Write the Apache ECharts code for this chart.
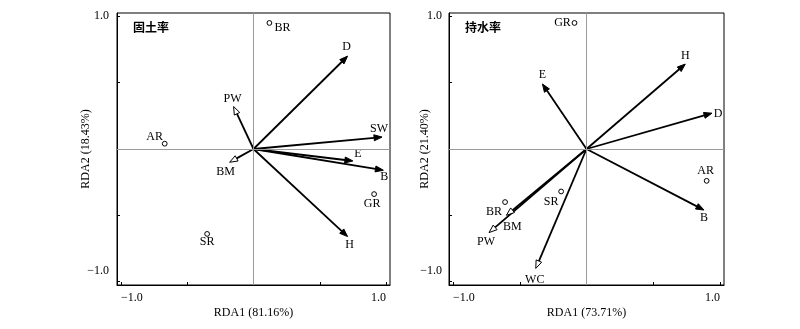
<!DOCTYPE html>
<html>
<head>
<meta charset="utf-8">
<title>RDA</title>
<script src="https://cdn.jsdelivr.net/npm/echarts@6/dist/echarts.min.js"></script>
<style>
  html, body { margin: 0; padding: 0; background: #fff; }
  #chart { width: 800px; height: 329px; }
</style>
</head>
<body>
<div id="chart"></div>
<script>
// ---- 固土率 panel ----
const soilTitle = '固土率';
const soilAxisX = 'RDA1 (81.16%)';
const soilAxisY = 'RDA2 (18.43%)';
const soilVars = ['D', 'SW', 'E', 'B', 'H', 'PW', 'BM'];
const soilVarX = [0.71, 0.97, 0.75, 0.98, 0.71, -0.15, -0.18];
const soilVarY = [0.70, 0.09, -0.09, -0.16, -0.66, 0.32, -0.10];
const soilOpenVars = ['PW', 'BM'];
const soilSites = ['BR', 'AR', 'GR', 'SR'];
const soilSiteX = [0.12, -0.67, 0.91, -0.35];
const soilSiteY = [0.95, 0.04, -0.34, -0.64];

// ---- 持水率 panel ----
const waterTitle = '持水率';
const waterAxisX = 'RDA1 (73.71%)';
const waterAxisY = 'RDA2 (21.40%)';
const waterVars = ['H', 'D', 'E', 'B', 'PW', 'BM', 'WC'];
const waterVarX = [0.74, 0.94, -0.33, 0.88, -0.73, -0.60, -0.38];
const waterVarY = [0.64, 0.27, 0.49, -0.46, -0.63, -0.50, -0.90];
const waterOpenVars = ['PW', 'BM', 'WC'];
const waterSites = ['GR', 'AR', 'SR', 'BR'];
const waterSiteX = [-0.09, 0.90, -0.19, -0.61];
const waterSiteY = [0.95, -0.24, -0.32, -0.40];

// axis ticks and labelled ends
const tickValues = [-1, -0.5, 0, 0.5, 1];
const labelValues = [-1, 1];

// label placement (pixel offset of each label centre from its point)
const soilLabelShift = {
  D: [-1, -9], SW: [-3, -8], E: [5, -7], B: [1, 7], H: [2, 8], PW: [-1, -8], BM: [-4, 10],
  BR: [13, 5], AR: [-10, -7], GR: [-2, 10], SR: [0, 8]
};
const waterLabelShift = {
  H: [0, -8], D: [6, 1], E: [0, -9], B: [0, 8], PW: [-3, 9], BM: [6, 12], WC: [-1, 11],
  GR: [-12, 0], AR: [-1, -10], SR: [-10, 10], BR: [-11, 10]
};

const SERIF = '"Liberation Serif", "Times New Roman", serif';

function fmt(v) {
  return (v < 0 ? '\u2212' : '') + Math.abs(v).toFixed(1);
}

function arrowSeries(idx, names, xs, ys, openNames, shift) {
  return {
    type: 'custom',
    xAxisIndex: idx,
    yAxisIndex: idx,
    z: 3,
    silent: true,
    data: names.map((n, i) => [xs[i], ys[i], openNames.includes(n) ? 1 : 0]),
    renderItem(params, api) {
      const name = names[params.dataIndex];
      const o = api.coord([0, 0]);
      const t = api.coord([api.value(0), api.value(1)]);
      const dx = t[0] - o[0], dy = t[1] - o[1];
      const len = Math.hypot(dx, dy);
      const ux = dx / len, uy = dy / len;
      const hl = 8, hw = 3;
      const b = [t[0] - ux * hl, t[1] - uy * hl];
      const p1 = [b[0] - uy * hw, b[1] + ux * hw];
      const p2 = [b[0] + uy * hw, b[1] - ux * hw];
      const open = api.value(2) === 1;
      const s = shift[name] || [0, 0];
      return {
        type: 'group',
        children: [
          {
            type: 'line',
            shape: { x1: o[0], y1: o[1], x2: b[0], y2: b[1] },
            style: { stroke: '#000', lineWidth: 1.8 }
          },
          {
            type: 'polygon',
            shape: { points: [t, p1, p2] },
            style: { fill: open ? '#fff' : '#000', stroke: '#000', lineWidth: 1 }
          },
          {
            type: 'text',
            x: t[0] + s[0],
            y: t[1] + s[1],
            style: {
              text: name, align: 'center', verticalAlign: 'middle',
              font: '12px ' + SERIF, fill: '#000'
            }
          }
        ]
      };
    }
  };
}

function siteSeries(idx, names, xs, ys, shift) {
  return {
    type: 'custom',
    xAxisIndex: idx,
    yAxisIndex: idx,
    z: 4,
    silent: true,
    data: names.map((n, i) => [xs[i], ys[i]]),
    renderItem(params, api) {
      const name = names[params.dataIndex];
      const p = api.coord([api.value(0), api.value(1)]);
      const s = shift[name] || [0, 0];
      return {
        type: 'group',
        children: [
          {
            type: 'circle',
            shape: { cx: p[0], cy: p[1], r: 2.4 },
            style: { fill: '#fff', stroke: '#000', lineWidth: 1 }
          },
          {
            type: 'text',
            x: p[0] + s[0],
            y: p[1] + s[1],
            style: {
              text: name, align: 'center', verticalAlign: 'middle',
              font: '12px ' + SERIF, fill: '#000'
            }
          }
        ]
      };
    }
  };
}

// grey zero lines through the origin
function originLines(idx) {
  return {
    type: 'scatter',
    xAxisIndex: idx,
    yAxisIndex: idx,
    data: [],
    z: 1,
    silent: true,
    markLine: {
      silent: true,
      symbol: ['none', 'none'],
      label: { show: false },
      lineStyle: { color: '#9a9a9a', width: 1, type: 'solid' },
      data: [{ xAxis: 0 }, { yAxis: 0 }],
      animation: false
    }
  };
}

function xAxisDef(idx, name) {
  return {
    type: 'value', gridIndex: idx, min: -1.03, max: 1.03,
    name: name, nameLocation: 'middle', nameGap: 22, nameMoveOverlap: false,
    nameTextStyle: { fontFamily: SERIF, fontSize: 12, color: '#000' },
    axisLine: { show: true, onZero: false, lineStyle: { color: '#000', width: 1 } },
    axisTick: { show: true, inside: true, length: 3, customValues: tickValues, lineStyle: { color: '#000' } },
    axisLabel: {
      show: true, customValues: labelValues, formatter: fmt, margin: 7,
      fontFamily: SERIF, fontSize: 12, color: '#000',
      alignMinLabel: 'left', alignMaxLabel: 'right'
    },
    splitLine: { show: false }
  };
}

function yAxisDef(idx, name, gap, margin) {
  return {
    type: 'value', gridIndex: idx, min: -1.025, max: 1.025,
    name: name, nameLocation: 'middle', nameGap: gap, nameMoveOverlap: false,
    nameTextStyle: { fontFamily: SERIF, fontSize: 12, color: '#000' },
    axisLine: { show: true, onZero: false, lineStyle: { color: '#000', width: 1 } },
    axisTick: { show: true, inside: true, length: 3, customValues: tickValues, lineStyle: { color: '#000' } },
    axisLabel: {
      show: true, customValues: labelValues, formatter: fmt, margin: margin,
      fontFamily: SERIF, fontSize: 12, color: '#000', lineHeight: 22,
      verticalAlignMinLabel: 'bottom', verticalAlignMaxLabel: 'middle'
    },
    splitLine: { show: false }
  };
}

const chart = echarts.init(document.getElementById('chart'), null, { renderer: 'canvas' });
chart.setOption({
  animation: false,
  backgroundColor: '#fff',
  title: [
    { text: soilTitle, left: 133, top: 21, padding: 0,
      textStyle: { fontFamily: '"Noto Sans CJK SC"', fontWeight: 'bold', fontSize: 12, color: '#000' } },
    { text: waterTitle, left: 465, top: 21, padding: 0,
      textStyle: { fontFamily: '"Noto Sans CJK SC"', fontWeight: 'bold', fontSize: 12, color: '#000' } }
  ],
  grid: [
    { left: 117, top: 13, width: 273, height: 272, show: true, borderColor: '#000', borderWidth: 1, containLabel: false },
    { left: 449, top: 13, width: 275, height: 272, show: true, borderColor: '#000', borderWidth: 1, containLabel: false }
  ],
  xAxis: [xAxisDef(0, soilAxisX), xAxisDef(1, waterAxisX)],
  yAxis: [yAxisDef(0, soilAxisY, 25, 8), yAxisDef(1, waterAxisY, 18, 7)],
  series: [
    originLines(0),
    arrowSeries(0, soilVars, soilVarX, soilVarY, soilOpenVars, soilLabelShift),
    siteSeries(0, soilSites, soilSiteX, soilSiteY, soilLabelShift),
    originLines(1),
    arrowSeries(1, waterVars, waterVarX, waterVarY, waterOpenVars, waterLabelShift),
    siteSeries(1, waterSites, waterSiteX, waterSiteY, waterLabelShift)
  ]
});
</script>
</body>
</html>
